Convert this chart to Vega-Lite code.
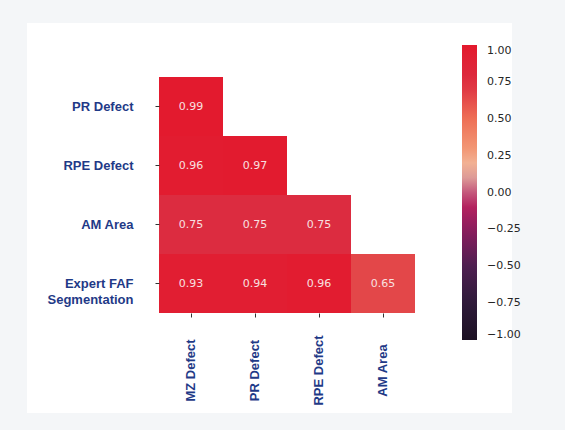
{
  "$schema": "https://vega.github.io/schema/vega-lite/v6.json",
  "autosize": {"type": "none"},
  "width": 485,
  "height": 390,
  "padding": {"left": 27, "top": 23, "right": 53, "bottom": 17},
  "background": "#f4f6f8",
  "config": {
    "view": {"fill": "white", "stroke": null},
    "axis": {
      "domain": false,
      "grid": false,
      "title": null,
      "tickColor": "#333333",
      "tickSize": 4,
      "tickWidth": 1,
      "labelFont": "Liberation Sans",
      "labelFontWeight": "bold",
      "labelFontSize": 13,
      "labelColor": "#1f3a87"
    }
  },
  "data": {
    "values": [
      {"row": "PR Defect", "col": "MZ Defect", "r": 0.99},
      {"row": "RPE Defect", "col": "MZ Defect", "r": 0.96},
      {"row": "RPE Defect", "col": "PR Defect", "r": 0.97},
      {"row": "AM Area", "col": "MZ Defect", "r": 0.75},
      {"row": "AM Area", "col": "PR Defect", "r": 0.75},
      {"row": "AM Area", "col": "RPE Defect", "r": 0.75},
      {"row": "Expert FAF Segmentation", "col": "MZ Defect", "r": 0.93},
      {"row": "Expert FAF Segmentation", "col": "PR Defect", "r": 0.94},
      {"row": "Expert FAF Segmentation", "col": "RPE Defect", "r": 0.96},
      {"row": "Expert FAF Segmentation", "col": "AM Area", "r": 0.65}
    ]
  },
  "encoding": {
    "x": {
      "field": "col",
      "type": "nominal",
      "sort": ["MZ Defect", "PR Defect", "RPE Defect", "AM Area"],
      "scale": {"paddingInner": 0, "paddingOuter": 0, "range": [132, 388]},
      "axis": {
        "orient": "bottom",
        "offset": -100,
        "labelAngle": -90,
        "labelAlign": "center",
        "labelBaseline": "middle",
        "labelPadding": 53
      }
    },
    "y": {
      "field": "row",
      "type": "nominal",
      "sort": ["PR Defect", "RPE Defect", "AM Area", "Expert FAF Segmentation"],
      "scale": {"paddingInner": 0, "paddingOuter": 0, "range": [54, 290]},
      "axis": {
        "orient": "left",
        "offset": -132,
        "labelAlign": "right",
        "labelBaseline": "middle",
        "labelPadding": 22,
        "labelLineHeight": 16,
        "labelExpr": "datum.value == 'Expert FAF Segmentation' ? ['Expert FAF', 'Segmentation'] : datum.label"
      }
    }
  },
  "layer": [
    {
      "mark": {"type": "rect"},
      "encoding": {
        "color": {
          "field": "r",
          "type": "quantitative",
          "scale": {
            "type": "linear",
            "interpolate": "rgb",
            "domain": [-1, -0.75, -0.5, -0.25, -0.1, 0, 0.1, 0.18, 0.25, 0.5, 0.75, 1],
            "range": ["#1c1022", "#2d1a3a", "#4e1f50", "#8a1c5e", "#b3225f", "#c4587c", "#dd9a97", "#f1b89c", "#f3a07c", "#ee6f56", "#dc2c40", "#e3192d"]
          },
          "legend": {
            "orient": "none",
            "legendX": 435,
            "legendY": 22,
            "direction": "vertical",
            "title": null,
            "gradientLength": 295,
            "gradientThickness": 15,
            "gradientStrokeWidth": 0,
            "values": [-1, -0.75, -0.5, -0.25, 0, 0.25, 0.5, 0.75, 1],
            "format": ".2f",
            "labelFont": "DejaVu Sans",
            "labelFontSize": 11,
            "labelColor": "#262626",
            "labelOffset": 10,
            "labelBaseline": "middle",
            "labelOverlap": false
          }
        }
      }
    },
    {
      "mark": {"type": "text", "font": "DejaVu Sans", "fontSize": 11, "color": "#f8e0e0"},
      "encoding": {
        "text": {"field": "r", "type": "quantitative", "format": ".2f"}
      }
    }
  ]
}
